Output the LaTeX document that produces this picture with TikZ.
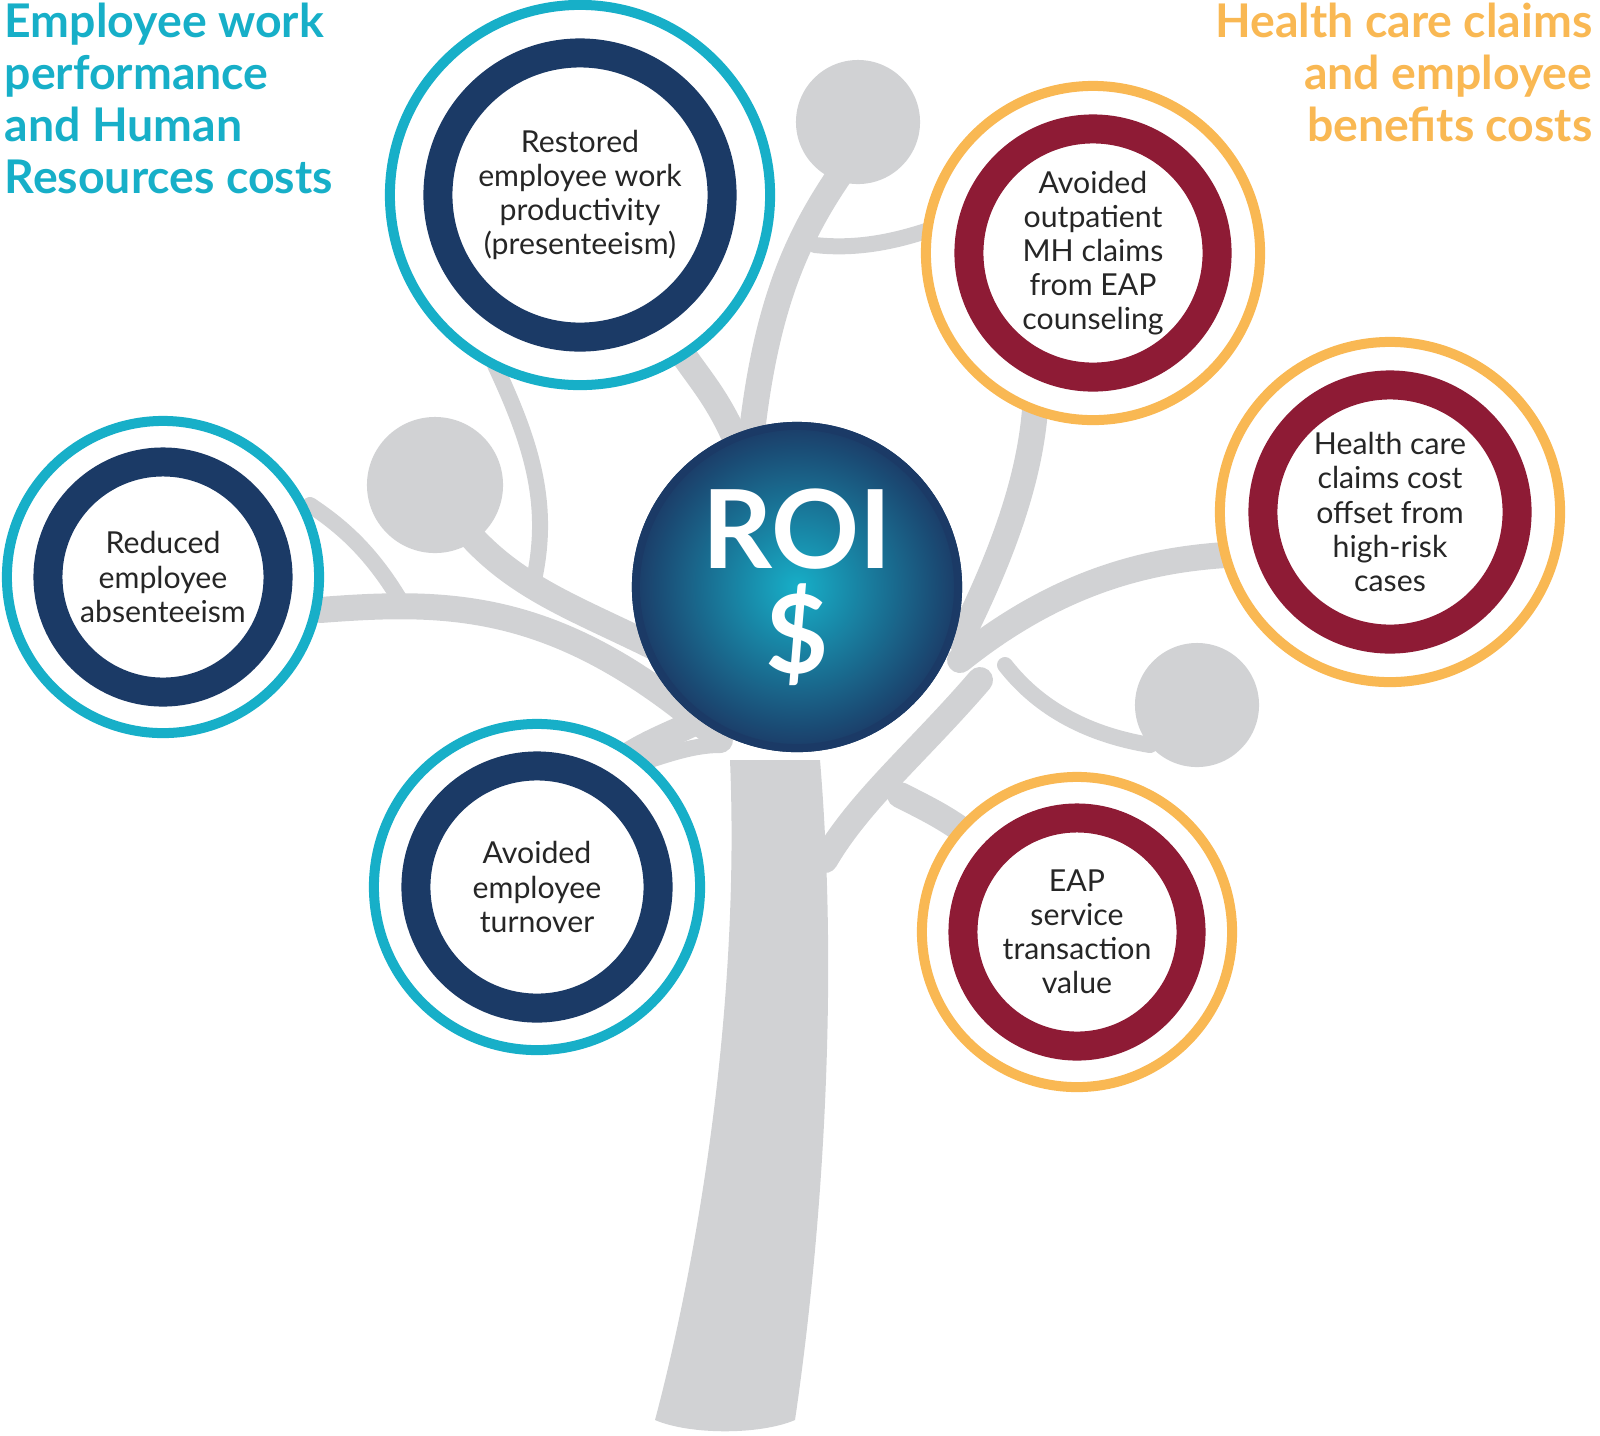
\documentclass[tikz,border=0pt]{standalone}
\usepackage{fontspec}
\setmainfont{Lato}
\definecolor{teal}{HTML}{17AFC8}
\definecolor{gold}{HTML}{F9B853}
\definecolor{navy}{HTML}{1B3A66}
\definecolor{maroon}{HTML}{8E1B35}
\definecolor{bark}{HTML}{D1D2D4}
\begin{document}
\begin{tikzpicture}[x=0.01cm,y=-0.01cm]
    \tikzstyle{branch}=[draw=bark,line cap=round,line width=0.26cm]
    \tikzstyle{twig}=[draw=bark,line cap=round,line width=0.16cm]
    \tikzstyle{ball}=[circle,fill=bark,inner sep=0pt]
    \tikzstyle{outer ring}=[circle,fill=white,line width=0.1cm,inner sep=0pt]
    \tikzstyle{inner ring}=[circle,fill=white,line width=0.29cm,inner sep=0pt,
        align=center,font=\fontsize{8.6}{9.7}\selectfont,text=black!85]
    \tikzstyle{heading}=[inner sep=0pt,font=\fontsize{13.2}{14.8}\selectfont\bfseries]
    \useasboundingbox (0,0) rectangle (1600,1435);

    % Trunk and branches
    \fill[bark] (655,1420) .. controls (700,1250) and (740,1000) .. (730,760)
        -- (820,760) .. controls (840,1000) and (820,1250) .. (795,1420)
        .. controls (760,1435) and (690,1435) .. cycle;
    \draw[branch] (720,740) .. controls (560,600) and (450,600) .. (320,610);
    \draw[branch] (660,650) .. controls (580,610) and (520,590) .. (470,535);
    \draw[twig] (535,575) .. controls (550,500) and (530,440) .. (495,365);
    \draw[twig] (400,600) .. controls (370,550) and (340,525) .. (310,505);
    \draw[branch] (740,450) .. controls (720,400) and (700,380) .. (680,350);
    \draw[branch] (750,450) .. controls (765,300) and (800,230) .. (850,160);
    \draw[twig] (815,245) .. controls (860,250) and (900,240) .. (935,228);
    \draw[branch] (960,640) .. controls (1010,540) and (1030,470) .. (1035,410);
    \draw[branch] (960,660) .. controls (1060,580) and (1150,560) .. (1225,555);
    \draw[twig] (1005,665) .. controls (1040,710) and (1090,735) .. (1150,745);
    \draw[branch] (700,720) .. controls (670,735) and (640,745) .. (615,765);
    \draw[twig] (650,760) .. controls (680,750) and (700,745) .. (720,745);
    \draw[branch] (980,680) .. controls (920,750) and (860,800) .. (825,860);
    \draw[branch] (900,795) .. controls (930,810) and (950,820) .. (975,840);
    \node[ball,minimum size=1.24cm] (b-1) at (858,122) {};
    \node[ball,minimum size=1.36cm] (b-2) at (435,485) {};
    \node[ball,minimum size=1.24cm] (b-3) at (1197,705) {};

    % Outcome circles
    \node[outer ring,draw=teal,minimum size=3.80cm] (p-1) at (580,195) {};
    \node[inner ring,draw=navy,minimum size=2.84cm] at (p-1)
        {Restored\\employee work\\productivity\\(presenteeism)};
    \node[outer ring,draw=teal,minimum size=3.12cm] (p-2) at (163,577) {};
    \node[inner ring,draw=navy,minimum size=2.30cm] at (p-2)
        {Reduced\\employee\\absenteeism};
    \node[outer ring,draw=teal,minimum size=3.26cm] (p-3) at (537,887) {};
    \node[inner ring,draw=navy,minimum size=2.42cm] at (p-3)
        {Avoided\\employee\\turnover};
    \node[outer ring,draw=gold,minimum size=3.34cm] (h-1) at (1093,253) {};
    \node[inner ring,draw=maroon,minimum size=2.48cm] at (h-1)
        {Avoided\\outpatient\\MH claims\\from EAP\\counseling};
    \node[outer ring,draw=gold,minimum size=3.40cm] (h-2) at (1390,512) {};
    \node[inner ring,draw=maroon,minimum size=2.54cm] at (h-2)
        {Health care\\claims cost\\offset from\\high-risk\\cases};
    \node[outer ring,draw=gold,minimum size=3.10cm] (h-3) at (1077,932) {};
    \node[inner ring,draw=maroon,minimum size=2.28cm] at (h-3)
        {EAP\\service\\transaction\\value};

    % Centre
    \shade[inner color=teal,outer color=navy] (797,587) circle (1.65cm);
    \node[circle,minimum size=3.22cm,draw=navy,line width=0.08cm,align=center,text=white,
        font=\fontsize{31}{30}\selectfont\bfseries] (roi) at (797,587) {ROI\\\$};

    % Group headings
    \node[heading,text=teal,anchor=north west,align=left] (hr) at (4,2)
        {Employee work\\performance\\and Human\\Resources costs};
    \node[heading,text=gold,anchor=north east,align=right] (hc) at (1593,2)
        {Health care claims\\and employee\\benefits costs};
\end{tikzpicture}
\end{document}
